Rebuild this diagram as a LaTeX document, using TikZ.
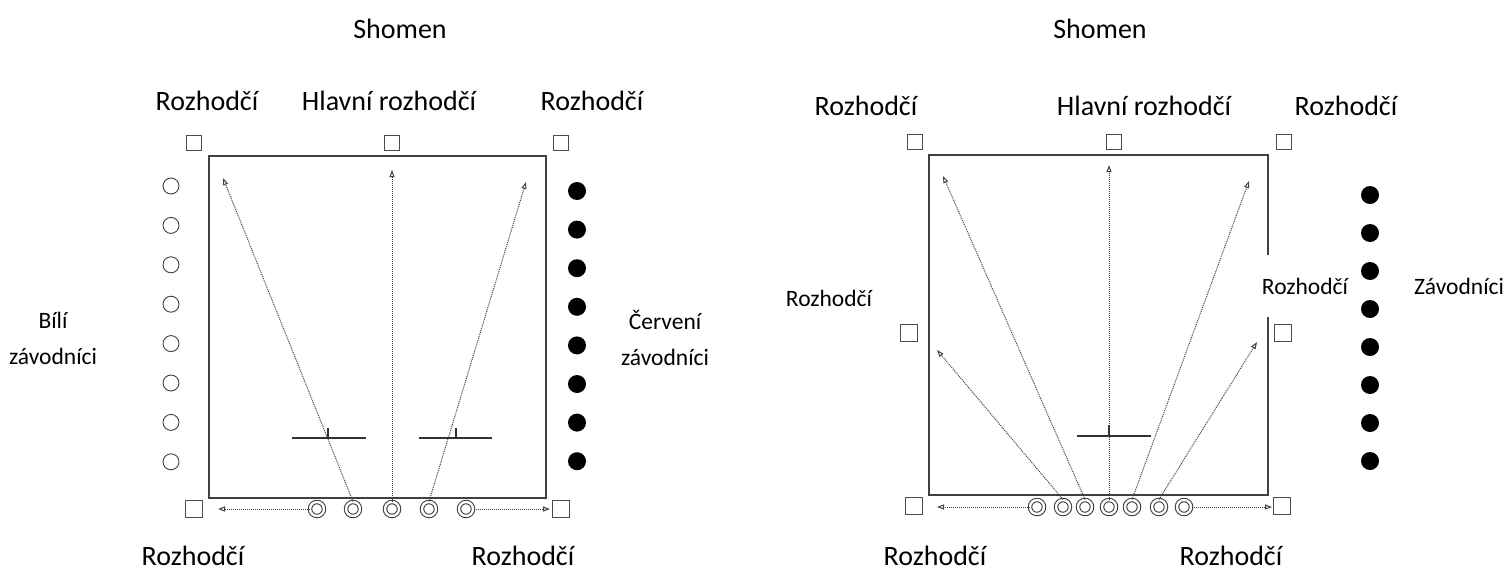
\documentclass[tikz,border=0pt]{standalone}
\usepackage{fontspec}
\setmainfont{Carlito}
\usetikzlibrary{arrows.meta}
\tikzset{
  court/.style={draw=black!75, line width=1.1pt},
  refbox/.style={rectangle, draw=black!70, line width=0.9pt, minimum size=15pt, inner sep=0pt},
  whiteplayer/.style={circle, draw=black!75, line width=0.9pt, minimum size=16pt, inner sep=0pt},
  redplayer/.style={circle, fill=black, minimum size=18pt, inner sep=0pt},
  runner/.style={circle, draw=black!80, line width=1pt, double=white, double distance=2.4pt, minimum size=14pt, inner sep=0pt},
  patharrow/.style={draw=black!75, densely dotted, line width=1pt, -{Triangle[open, length=7pt, width=5pt]}},
  bench/.style={draw=black!80, line width=1.1pt},
  big/.style={font=\fontsize{28}{32}\selectfont, inner sep=0pt},
  small/.style={font=\fontsize{23.5}{36}\selectfont, align=center, inner sep=0pt},
}
\begin{document}
\begin{tikzpicture}[x=1pt, y=-1pt]
\useasboundingbox (0,0) rectangle (1507,573);

% ---------------- left court ----------------
\draw[court] (209,156) rectangle (546,498);
\node[refbox] (lt1) at (194,143) {};
\node[refbox] (lt2) at (392,143) {};
\node[refbox] (lt3) at (561,143) {};
\node[refbox, minimum size=17pt] (lb1) at (194,509) {};
\node[refbox, minimum size=17pt] (lb2) at (561,509) {};

\foreach \i in {0,...,7} {
  \node[whiteplayer] (w\i) at (171,{186+39.4*\i}) {};
  \node[redplayer] (k\i) at (577,{191+38.6*\i}) {};
}

\foreach \n/\x in {1/317,2/353,3/392,4/429,5/466}
  \node[runner] (a\n) at (\x,509) {};

\coordinate (ae1) at (218,509);
\coordinate (ae2) at (223,178);
\coordinate (ae3) at (392,170);
\coordinate (ae4) at (526,182);
\coordinate (ae5) at (550,509);
\draw[patharrow] (a1.west) -- (ae1);
\draw[patharrow] (a2.north) -- (ae2);
\draw[patharrow] (a3.north) -- (ae3);
\draw[patharrow] (a4.north) -- (ae4);
\draw[patharrow] (a5.east) -- (ae5);

\coordinate (lbA) at (292,438); \coordinate (lbB) at (366,438);
\coordinate (lbC) at (419,438); \coordinate (lbD) at (492,438);
\draw[bench] (lbA) -- (lbB);
\draw[bench] (lbC) -- (lbD);
\draw[bench] (328,438) -- (328,428);
\draw[bench] (456,438) -- (456,428);

\node[big] (ls) at (400,29) {Shomen};
\node[big] (lr1) at (207,101) {Rozhodčí};
\node[big] (lh) at (389,101) {Hlavní rozhodčí};
\node[big] (lr2) at (592,101) {Rozhodčí};
\node[big] (lr3) at (193,556) {Rozhodčí};
\node[big] (lr4) at (523,556) {Rozhodčí};
\node[small] (lw) at (53,338) {Bílí\\závodníci};
\node[small] (lk) at (665,338) {Červení\\závodníci};

% ---------------- right court ----------------
\draw[court] (929,155) rectangle (1268,495);
\node[refbox] (rt1) at (915,142) {};
\node[refbox] (rt2) at (1114,142) {};
\node[refbox] (rt3) at (1284,142) {};
\node[refbox, minimum size=17pt] (rs1) at (909,333) {};
\node[refbox, minimum size=17pt] (rs2) at (1283,333) {};
\node[refbox, minimum size=17pt] (rb1) at (914,506) {};
\node[refbox, minimum size=17pt] (rb2) at (1282,506) {};

\foreach \i in {0,...,7}
  \node[redplayer] (q\i) at (1370,{195+38*\i}) {};

\foreach \n/\x in {1/1037,2/1063,3/1085,4/1109,5/1132,6/1159,7/1184}
  \node[runner] (b\n) at (\x,507) {};

\coordinate (be1) at (937,507);
\coordinate (be2) at (937,350);
\coordinate (be3) at (943,176);
\coordinate (be4) at (1109,165);
\coordinate (be5) at (1249,181);
\coordinate (be6) at (1257,342);
\coordinate (be7) at (1272,507);
\draw[patharrow] (b1.west) -- (be1);
\draw[patharrow] (b2.north) -- (be2);
\draw[patharrow] (b3.north) -- (be3);
\draw[patharrow] (b4.north) -- (be4);
\draw[patharrow] (b5.north) -- (be5);
\draw[patharrow] (b6.north) -- (be6);
\draw[patharrow] (b7.east) -- (be7);

\coordinate (rbA) at (1077,436); \coordinate (rbB) at (1151,436);
\draw[bench] (rbA) -- (rbB);
\draw[bench] (1109,436) -- (1109,425);

\node[big] (rsh) at (1100,29) {Shomen};
\node[big] (rr1) at (866,106) {Rozhodčí};
\node[big] (rh) at (1144,106) {Hlavní rozhodčí};
\node[big] (rr2) at (1346,106) {Rozhodčí};
\node[big] (rr3) at (935,556) {Rozhodčí};
\node[big] (rr4) at (1231,556) {Rozhodčí};
\node[small] (rm1) at (829,298) {Rozhodčí};
\node[small, fill=white, minimum height=62pt, inner xsep=5pt] (rm2) at (1305,286) {Rozhodčí};
\node[small] (rz) at (1459,286) {Závodníci};
\end{tikzpicture}
\end{document}
